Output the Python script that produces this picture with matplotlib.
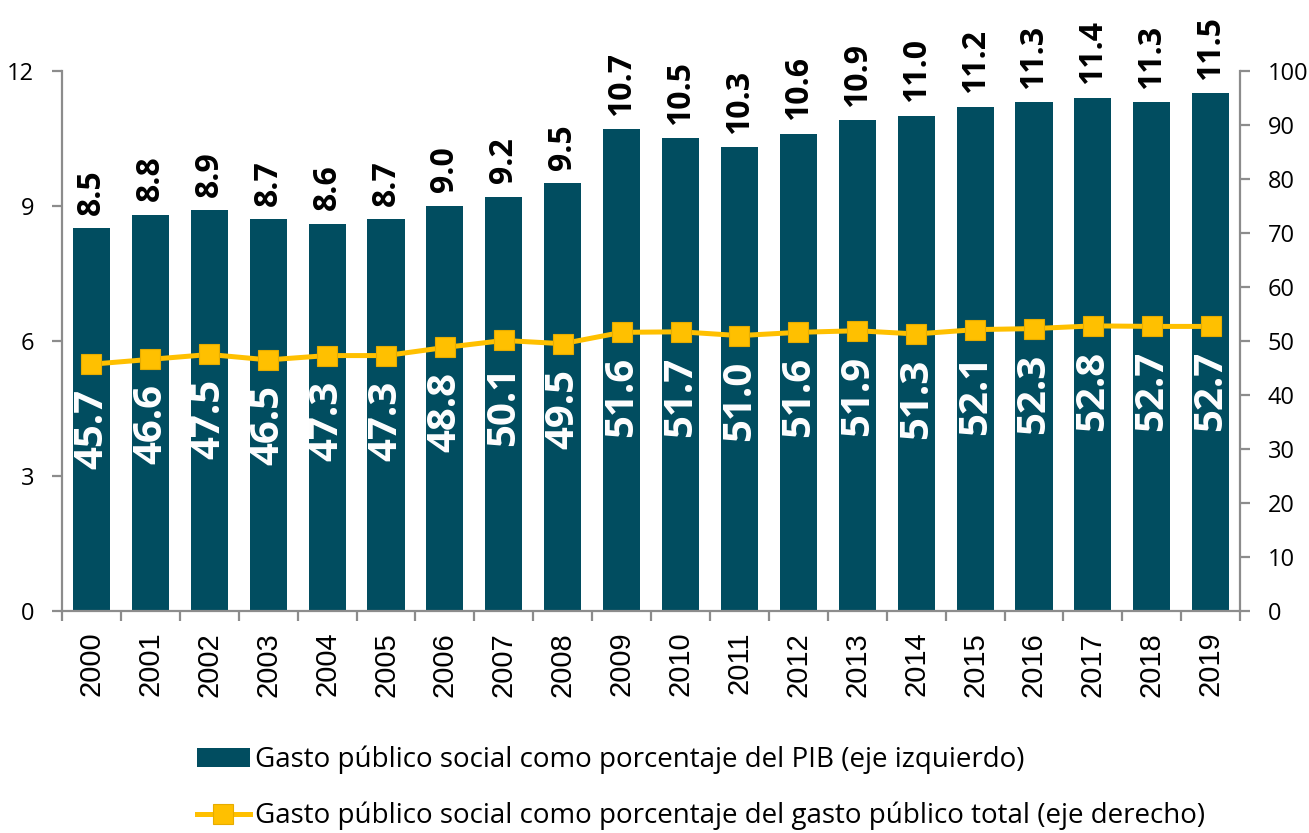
import matplotlib.pyplot as plt
import numpy as np

plt.rcParams['font.family'] = ['Open Sans', 'DejaVu Sans']

years = [str(y) for y in range(2000, 2020)]
pib = [8.5, 8.8, 8.9, 8.7, 8.6, 8.7, 9.0, 9.2, 9.5, 10.7,
       10.5, 10.3, 10.6, 10.9, 11.0, 11.2, 11.3, 11.4, 11.3, 11.5]
total = [45.7, 46.6, 47.5, 46.5, 47.3, 47.3, 48.8, 50.1, 49.5, 51.6,
         51.7, 51.0, 51.6, 51.9, 51.3, 52.1, 52.3, 52.8, 52.7, 52.7]
lbl_bar = "Gasto público social como porcentaje del PIB (eje izquierdo)"
lbl_line = "Gasto público social como porcentaje del gasto público total (eje derecho)"

bar_col = '#014D60'
line_col = '#FFC000'
axis_col = '#8C8C8C'

fig = plt.figure(figsize=(13.09, 8.33), dpi=100)
ax = fig.add_axes([0.0474, 0.2665, 0.90, 0.6483])
ax2 = ax.twinx()

x = np.arange(len(years))
bars = ax.bar(x, pib, width=0.63, color=bar_col, label=lbl_bar, zorder=2)
ln, = ax2.plot(x, total, color=line_col, lw=3.6, marker='s', ms=14,
               markeredgecolor='#E6AC00', markeredgewidth=0.8,
               label=lbl_line, zorder=3)

ax.set_xlim(-0.5, len(years) - 0.5)
ax.set_ylim(0, 12)
ax.set_yticks([0, 3, 6, 9, 12])
ax2.set_ylim(0, 100)
ax2.set_yticks(range(0, 101, 10))

for i, v in enumerate(pib):
    ax.text(i, v + 0.3, f"{v:.1f}", rotation=90, ha='center', va='bottom',
            fontsize=23, fontweight='bold', color='black')
for i, v in enumerate(total):
    ax2.text(i, v - 4.6, f"{v:.1f}", rotation=90, ha='center', va='top',
             fontsize=29, fontweight='bold', color='white', zorder=4)

# axes look
for a in (ax, ax2):
    a.spines['top'].set_visible(False)
ax.spines['right'].set_visible(False)
ax2.spines['left'].set_visible(False)
ax2.spines['bottom'].set_visible(False)
for s in (ax.spines['left'], ax.spines['bottom'], ax2.spines['right']):
    s.set_color(axis_col)
    s.set_linewidth(1.6)

ax.tick_params(axis='y', direction='out', length=7, color=axis_col, width=1.6,
               labelsize=17, pad=13)
ax2.tick_params(axis='y', direction='out', length=7, color=axis_col, width=1.6,
                labelsize=17, pad=13)

# x ticks at category boundaries, labels centred
ax.set_xticks(np.arange(-0.5, len(years), 1.0))
ax.set_xticklabels([])
ax.tick_params(axis='x', direction='out', length=7, color=axis_col, width=1.6)
ax.set_xticks(x, minor=True)
ax.set_xticklabels(years, minor=True, rotation=90, fontsize=21,
                   fontfamily=['Liberation Sans', 'DejaVu Sans'])
ax.tick_params(axis='x', which='minor', length=0, pad=15)

fig.legend(handles=[bars, ln], labels=[lbl_bar, lbl_line],
           loc='center left', bbox_to_anchor=(197 / 1309, 1 - 788 / 833),
           ncol=1, frameon=False, fontsize=20, handlelength=1.9,
           handletextpad=0.2, labelspacing=1.0, borderpad=0,
           borderaxespad=0)

fig.savefig('out.png', dpi=100)
